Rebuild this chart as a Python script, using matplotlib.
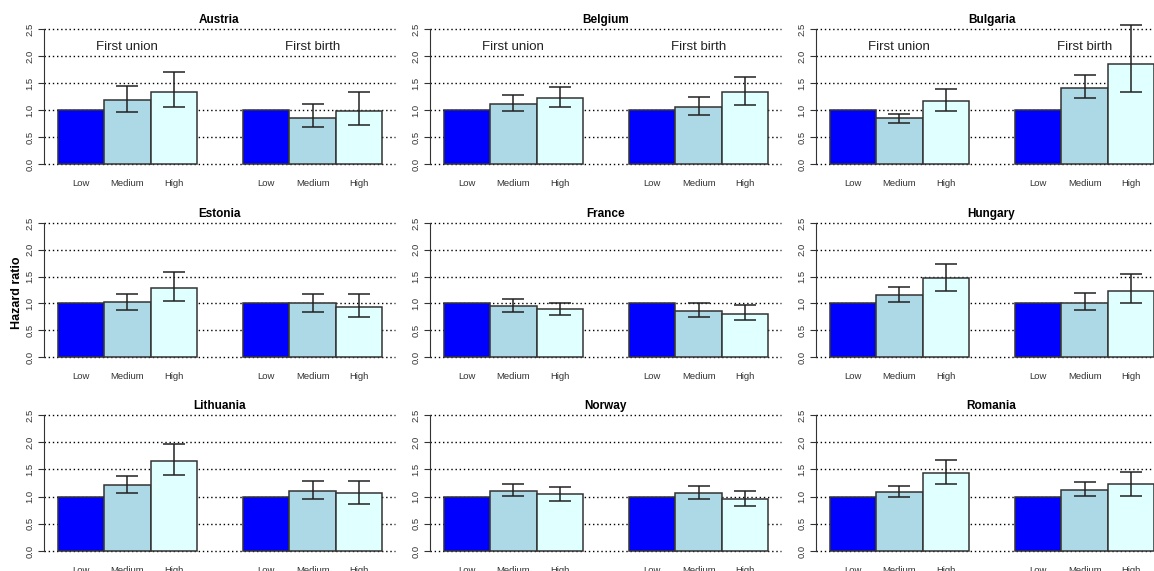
import matplotlib
matplotlib.use("Agg")
import matplotlib.pyplot as plt
import numpy as np

countries = ["Austria", "Belgium", "Bulgaria", "Estonia", "France", "Hungary",
             "Lithuania", "Norway", "Romania"]
levels = ["Low", "Medium", "High"]
outcomes = ["First union", "First birth"]

# hazard ratios (Low = reference, 1.0) and 95% CI bounds
union_med = [1.19, 1.12, 0.85, 1.02, 0.95, 1.16, 1.21, 1.11, 1.09]
union_med_lo = [0.97, 0.99, 0.76, 0.87, 0.84, 1.03, 1.06, 1.01, 0.99]
union_med_hi = [1.45, 1.27, 0.92, 1.18, 1.08, 1.31, 1.37, 1.24, 1.19]
union_high = [1.33, 1.22, 1.17, 1.28, 0.89, 1.47, 1.66, 1.04, 1.43]
union_high_lo = [1.05, 1.06, 0.99, 1.04, 0.78, 1.24, 1.40, 0.91, 1.24]
union_high_hi = [1.71, 1.42, 1.38, 1.58, 1.00, 1.73, 1.96, 1.17, 1.68]
birth_med = [0.86, 1.06, 1.41, 1.00, 0.85, 1.00, 1.11, 1.07, 1.13]
birth_med_lo = [0.68, 0.90, 1.22, 0.84, 0.75, 0.87, 0.95, 0.95, 1.01]
birth_med_hi = [1.12, 1.25, 1.64, 1.18, 1.00, 1.19, 1.29, 1.20, 1.26]
birth_high = [0.99, 1.33, 1.86, 0.94, 0.81, 1.23, 1.07, 0.95, 1.23]
birth_high_lo = [0.72, 1.10, 1.34, 0.74, 0.69, 1.01, 0.87, 0.83, 1.02]
birth_high_hi = [1.34, 1.61, 2.57, 1.17, 0.97, 1.54, 1.29, 1.10, 1.45]

plt.rcParams['font.family'] = ['Liberation Sans', 'DejaVu Sans']

W, H = 1154, 571
fig = plt.figure(figsize=(W / 100, H / 100), dpi=100)

bar_cols = ["#0000FF", "#ADD8E6", "#E0FFFF"]
lefts = [44, 430, 816]
rows = [(164, 29), (357, 223), (551, 415)]   # pixel rows of y=0 and y=2.5
panel_w = 351
xmax = 7.58

for i, c in enumerate(countries):
    r, col = divmod(i, 3)
    y0, y25 = rows[r]
    ax = fig.add_axes([lefts[col] / W, (H - y0) / H, panel_w / W, (y0 - y25) / H])
    ax.set_xlim(0, xmax)
    ax.set_ylim(0, 2.5)

    for g in np.arange(0, 2.51, 0.5):
        ax.axhline(g, color="black", lw=1.0, ls=(0, (1, 2)), zorder=0, clip_on=False)

    vals = [1.0, union_med[i], union_high[i], 1.0, birth_med[i], birth_high[i]]
    lo = [np.nan, union_med_lo[i], union_high_lo[i], np.nan, birth_med_lo[i], birth_high_lo[i]]
    hi = [np.nan, union_med_hi[i], union_high_hi[i], np.nan, birth_med_hi[i], birth_high_hi[i]]
    x = np.array([0.3, 1.3, 2.3, 4.3, 5.3, 6.3])
    ax.bar(x, vals, width=1.0, align="edge", color=bar_cols * 2,
           edgecolor="#333333", linewidth=1.1, zorder=2, clip_on=False)

    xc = x + 0.5
    v = np.array(vals)
    err = np.vstack([v - np.array(lo), np.array(hi) - v])
    ax.errorbar(xc, v, yerr=err, fmt="none", ecolor="#222222", elinewidth=1.1,
                capsize=8, capthick=1.1, zorder=3, clip_on=False)

    ax.set_xticks(xc)
    ax.set_xticklabels(levels * 2, fontsize=6.8, color="#333333")
    ax.tick_params(axis="x", length=0, pad=10.5)
    ax.set_yticks(np.arange(0, 2.51, 0.5))
    ax.set_yticklabels(["0.0", "0.5", "1.0", "1.5", "2.0", "2.5"],
                       rotation=90, va="center", fontsize=6.8, color="#333333")
    ax.tick_params(axis="y", length=4, pad=3, width=0.8, color="#333333")

    for s in ["top", "right", "bottom"]:
        ax.spines[s].set_visible(False)
    ax.spines["left"].set_bounds(0, 2.5)
    ax.spines["left"].set_color("#333333")
    ax.patch.set_alpha(0)

    ax.set_title(c, fontsize=8.5, fontweight="bold", pad=4)

    if r == 0:
        ax.text(1.8, 2.17, outcomes[0], ha="center", va="center", fontsize=9.5, color="#222222")
        ax.text(5.8, 2.17, outcomes[1], ha="center", va="center", fontsize=9.5, color="#222222")

fig.text(17 / W, 1 - 293 / H, "Hazard ratio", rotation=90, ha="center", va="center",
         fontsize=9, fontweight="bold")

plt.savefig("out.png", dpi=100)
